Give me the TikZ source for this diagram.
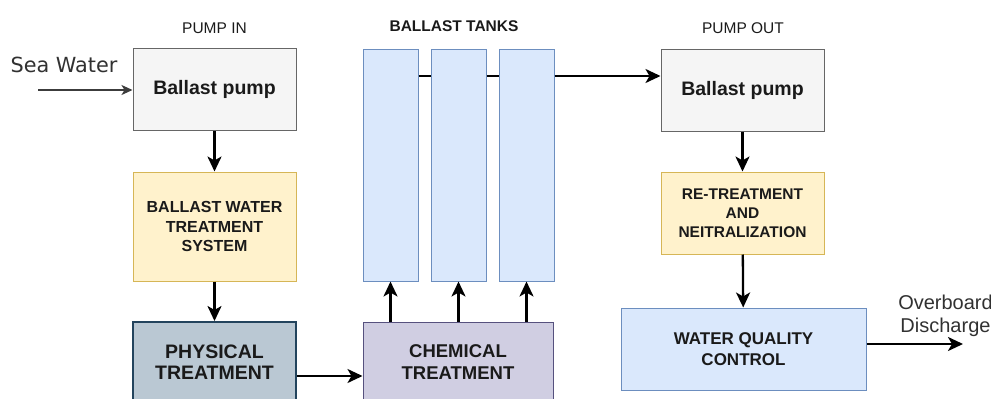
\documentclass[tikz,border=0pt]{standalone}
\usepackage{fontspec}
\setmainfont{Liberation Sans}
\newfontfamily\seafont{DejaVu Sans}
\usetikzlibrary{arrows.meta}
\definecolor{pumpfill}{HTML}{F5F5F5}
\definecolor{pumpdraw}{HTML}{666666}
\definecolor{yelfill}{HTML}{FFF2CC}
\definecolor{yeldraw}{HTML}{D6B656}
\definecolor{physfill}{HTML}{BAC8D3}
\definecolor{physdraw}{HTML}{23445D}
\definecolor{chemfill}{HTML}{D0CEE2}
\definecolor{chemdraw}{HTML}{56517E}
\definecolor{bluefill}{HTML}{DAE8FC}
\definecolor{bluedraw}{HTML}{6C8EBF}
\definecolor{txt}{HTML}{1A1A1A}
\tikzset{
  box/.style={draw, line width=1pt, inner sep=0pt, align=center, text=txt, font=\bfseries},
  pumpbox/.style={box, fill=pumpfill, draw=pumpdraw, minimum width=163pt, minimum height=82pt, font=\fontsize{19.5}{22}\selectfont\bfseries},
  yelbox/.style={box, fill=yelfill, draw=yeldraw, minimum width=163pt},
  tankbox/.style={box, fill=bluefill, draw=bluedraw, minimum width=55pt, minimum height=232pt},
  flow/.style={line width=2.3pt, -{Stealth[length=15pt,width=14pt,inset=4pt]}},
  thinflow/.style={line width=1.7pt, draw=txt!85, -{Stealth[length=11pt,width=10pt,inset=3pt]}},
  caption/.style={text=txt, font=\fontsize{15.5}{18}\selectfont},
}
\begin{document}
\begin{tikzpicture}[x=1pt,y=-1pt]
\useasboundingbox (0,0) rectangle (991,399);
\clip (0,0) rectangle (991,399);
% captions
\node[caption] (capin) at (214.5,28) {PUMP IN};
\node[caption, font=\fontsize{15.5}{18}\selectfont\bfseries] (captanks) at (454,26) {BALLAST TANKS};
\node[caption] (capout) at (743,28) {PUMP OUT};
\node[text=txt!90, font=\seafont\fontsize{20.8}{24}\selectfont, inner sep=0pt, anchor=base] (sea) at (64,72) {Sea Water};
% left column
\node[pumpbox] (p1) at (214.5,89.5) {Ballast pump};
\node[yelbox, minimum height=109pt, font=\fontsize{16}{19.5}\selectfont\bfseries] (bwts) at (214.5,226.5) {BALLAST WATER\\TREATMENT\\SYSTEM};
\node[box, fill=physfill, draw=physdraw, line width=2pt, minimum width=163pt, minimum height=80pt, font=\fontsize{19.5}{21.5}\selectfont\bfseries] (phys) at (214.5,362) {PHYSICAL\\TREATMENT};
% tanks
\node[tankbox] (t1) at (390.5,165) {};
\node[tankbox] (t2) at (458.5,165) {};
\node[tankbox] (t3) at (526.5,165) {};
\node[box, fill=chemfill, draw=chemdraw, minimum width=190pt, minimum height=80pt, font=\fontsize{18.5}{21.5}\selectfont\bfseries] (chem) at (458,362) {CHEMICAL\\TREATMENT};
% right column
\node[pumpbox] (p2) at (742.5,90) {Ballast pump};
\node[yelbox, minimum height=82pt, font=\fontsize{15.5}{19}\selectfont\bfseries] (ret) at (742.5,213) {RE-TREATMENT\\AND\\NEITRALIZATION};
\node[box, fill=bluefill, draw=bluedraw, minimum width=245pt, minimum height=82pt, font=\fontsize{17}{20.5}\selectfont\bfseries] (wqc) at (743.5,349) {WATER QUALITY\\CONTROL};
\node[text=txt!90, align=center, font=\fontsize{20}{22.5}\selectfont, inner sep=0pt] (ob) at (945.5,316) {Overboard\\Discharge};
% connectors
\coordinate (sw) at (38,90);
\draw[thinflow] (sw) -- (p1.west |- sw);
\draw[flow] (p1) -- (bwts);
\draw[flow] (bwts) -- (phys);
\draw[flow] ([yshift=-14pt]phys.east) -- ([yshift=-14pt]chem.west);
\draw[flow] (chem.north -| t1) -- (t1.south);
\draw[flow] (chem.north -| t2) -- (t2.south);
\draw[flow] (chem.north -| t3) -- (t3.south);
\coordinate (tl) at (0,76);
\draw[line width=2.3pt] (t1.east |- tl) -- (t2.west |- tl);
\draw[line width=2.3pt] (t2.east |- tl) -- (t3.west |- tl);
\draw[flow] (t3.east |- tl) -- (p2.west |- tl);
\draw[flow] (p2) -- (ret);
\draw[flow] (ret) -- (wqc);
\coordinate (obend) at (963,344);
\draw[flow] (wqc.east |- obend) -- (obend);
\end{tikzpicture}
\end{document}
